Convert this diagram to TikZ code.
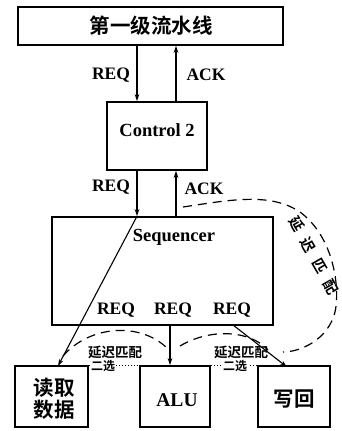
\documentclass[tikz,border=0pt]{standalone}
\usepackage{fontspec}
\setmainfont{Liberation Serif}
\newfontfamily\cjk{Noto Sans CJK SC}[BoldFont={Noto Sans CJK SC Bold}]
\usetikzlibrary{arrows.meta,calc}
\begin{document}
\begin{tikzpicture}[x=1pt,y=-1pt,
  boxst/.style={draw,line width=1.6pt,inner sep=0pt,anchor=center},
  arr/.style={line width=1.1pt,-{Stealth[length=7pt,width=4.5pt]}},
  lbl/.style={font=\fontsize{17.5}{17.5}\selectfont\bfseries,inner sep=0pt},
  big/.style={font=\fontsize{18.5}{18.5}\selectfont\bfseries,inner sep=0pt},
  cn/.style={font=\cjk\bfseries\fontsize{20.5}{22}\selectfont,inner sep=0pt,align=center},
  small/.style={font=\cjk\bfseries\fontsize{12}{12}\selectfont,inner sep=0.5pt,fill=white},
  rot/.style={font=\cjk\bfseries\fontsize{14.5}{14.5}\selectfont,inner sep=0pt,rotate=-60},
  dsh/.style={line width=1.2pt,dash pattern=on 9pt off 6pt},
  dts/.style={line width=0.8pt,dash pattern=on 1.2pt off 1.8pt}]
\useasboundingbox (0,0) rectangle (342,431);
% boxes
\node[boxst,minimum width=265pt,minimum height=38pt] (top) at (150.5,26) {};
\node[cn] (toptxt) at (151,26) {第一级流水线};
\node[boxst,minimum width=100pt,minimum height=68pt] (ctrl) at (157,136) {};
\node[big] (ctrltxt) at (157,130) {Control 2};
\node[boxst,minimum width=221pt,minimum height=108pt] (seq) at (162.5,271) {};
\node[big] (seqtxt) at (174,237) {Sequencer};
\node[boxst,minimum width=73pt,minimum height=61pt] (rd) at (51.5,396.5) {};
\node[cn] (rdtxt) at (54,399) {读取\\数据};
\node[boxst,minimum width=70pt,minimum height=61pt] (alu) at (175,396.5) {};
\node[big,font=\fontsize{19.5}{19.5}\selectfont\bfseries] (alutxt) at (177,400) {ALU};
\node[boxst,minimum width=72pt,minimum height=61pt] (wb) at (294,396.5) {};
\node[cn] (wbtxt) at (294,399) {写回};
% x positions
\coordinate (xr) at (137,0);
\coordinate (xa) at (176,0);
\coordinate (xalu) at (170,0);
% top <-> control
\draw[arr] (top.south -| xr) -- (ctrl.north -| xr);
\draw[arr] (ctrl.north -| xa) -- (top.south -| xa);
\node[lbl] (req1) at (111,75) {REQ};
\node[lbl] (ack1) at (206,75) {ACK};
% control <-> sequencer
\draw[arr] (ctrl.south -| xr) -- (seq.north -| xr);
\draw[arr] (seq.north -| xa) -- (ctrl.south -| xa);
\node[lbl] (req2) at (111,187) {REQ};
\node[lbl] (ack2) at (204,189) {ACK};
% sequencer outputs
\coordinate (rdtip) at (58,366);
\coordinate (wbs) at (233,325);
\coordinate (wbtip) at (287,367);
\draw[arr] (seq.north -| xr) -- (rdtip);
\draw[arr] (seq.south -| xalu) -- (alu.north -| xalu);
\draw[arr] (wbs) -- (wbtip);
\node[lbl] (r1) at (116,310) {REQ};
\node[lbl] (r2) at (173,310) {REQ};
\node[lbl] (r3) at (232,310) {REQ};
% dotted lines between boxes
\draw[dts] (rd.north east) -- (alu.north west);
\draw[dts] (alu.north east) -- (wb.north west);
\node[small] (s1) at (103,366) {二选};
\node[small] (s2) at (235,366) {二选};
% dashed arcs
\coordinate (a1s) at (63,356);
\coordinate (a1e) at (167,348);
\draw[dsh] (a1s) .. controls (90,325) and (140,322) .. (a1e);
\coordinate (a2s) at (180,346);
\coordinate (a2e) at (268,350);
\draw[dsh] (a2s) .. controls (210,328) and (250,330) .. (a2e);
\coordinate (bs) at (183,207);
\coordinate (be) at (283,352);
\draw[dsh] (bs) .. controls (230,200) and (270,192) .. (300,212)
  .. controls (335,238) and (340,290) .. (335,312)
  .. controls (328,340) and (300,352) .. (be);
\node[font=\cjk\bfseries\fontsize{13.5}{13.5}\selectfont,inner sep=0pt] (d1) at (115,352) {延迟匹配};
\node[font=\cjk\bfseries\fontsize{13.5}{13.5}\selectfont,inner sep=0pt] (d2) at (241,352) {延迟匹配};
\node[rot] (c1) at (297,224) {延};
\node[rot] (c2) at (308,245) {迟};
\node[rot] (c3) at (320,266) {匹};
\node[rot] (c4) at (331,287) {配};
\end{tikzpicture}
\end{document}
